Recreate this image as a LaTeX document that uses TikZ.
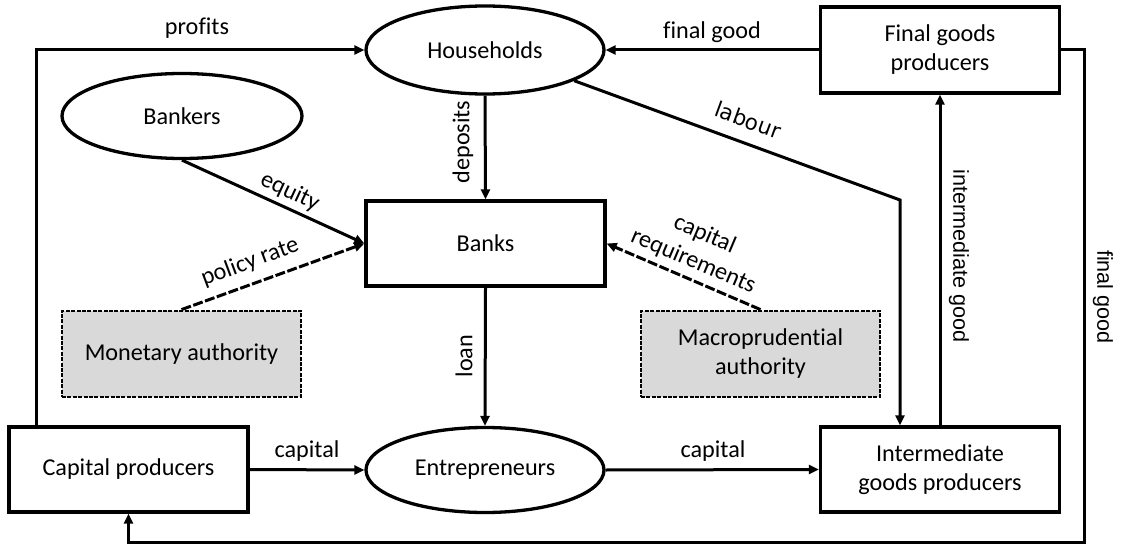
\documentclass[tikz,border=0pt]{standalone}
\usepackage{fontspec}
\setmainfont{Carlito}[Ligatures=NoCommon]
\newfontfamily\vlabfont{Liberation Sans}
\newfontfamily\labfont{DejaVu Sans}
\usetikzlibrary{shapes.geometric,arrows.meta,calc}
\definecolor{authgray}{HTML}{D9D9D9}
\tikzset{
  base/.style={line width=3.3pt, inner sep=0pt, align=center, font=\fontsize{24.2pt}{29pt}\selectfont},
  boxn/.style={base, draw, rectangle, minimum width=239pt, minimum height=85pt},
  elln/.style={base, draw, ellipse, minimum width=238pt, minimum height=88pt},
  authn/.style={base, draw, rectangle, fill=authgray, minimum width=239pt, minimum height=86pt, dash pattern=on 4pt off 1.4pt, line width=2.8pt},
  arr/.style={line width=3pt, -{Triangle[length=10pt,width=9pt]}},
  darr/.style={arr, dash pattern=on 10pt off 2.5pt},
  lab/.style={inner sep=0pt, font=\fontsize{24.2pt}{29pt}\selectfont, align=center},
  vlab/.style={inner sep=0pt, font=\vlabfont\fontsize{21.6pt}{26pt}\selectfont},
}
\begin{document}
\begin{tikzpicture}[x=1pt,y=-1pt]
\useasboundingbox (0,0) rectangle (1121,545);
% nodes
\node[elln] (hh) at (485,50) {Households};
\node[elln, minimum width=240pt, minimum height=85pt] (bn) at (182,116) {Bankers};
\node[boxn] (bk) at (485.5,243.5) {Banks};
\node[boxn, minimum height=86pt] (fg) at (940,50) {Final goods\\producers};
\node[authn] (ma) at (181.5,354) {Monetary authority};
\node[authn] (mp) at (760.5,354) {Macroprudential\\authority};
\node[boxn] (cp) at (128.5,469.5) {Capital producers};
\node[elln, minimum height=85pt] (en) at (485,470) {Entrepreneurs};
\node[boxn] (ig) at (940,469.5) {Intermediate\\goods producers};
% helper coordinates
\coordinate (pf) at (36,50);
\coordinate (lb) at (900,200);
\coordinate (fgc) at (1084,542);
% connectors
\draw[arr] (pf |- cp.north) -- (pf) -- (hh.west);
\draw[arr] (fg.west) -- (hh.east);
\draw[arr] (fg.east) -| (fgc) -| (cp.south);
\draw[arr] (hh.south) -- (bk.north);
\draw[arr] (bk.south) -- (en.north);
\draw[arr] (bn.south) -- (bk.west);
\draw[darr] (ma.north) -- (bk.west);
\draw[darr] (mp.north) -- (bk.east);
\draw[arr] (hh.-19.4) -- (lb) -- (lb |- ig.north);
\draw[arr] (ig.north) -- (fg.south);
\draw[arr] (cp.east) -- (en.west);
\draw[arr] (en.east) -- (ig.west);
% labels
\node[lab] (lprof) at (197,28) {profits};
\node[lab] (lfg) at (712,32) {final good};
\node[lab, rotate=90] (ldep) at (463,142) {deposits};
\node[lab, rotate=90] (lloan) at (464,356) {loan};
\node[lab] (lcap1) at (307,451) {capital};
\node[lab] (lcap2) at (713,451) {capital};
\node[lab, rotate=-25] (leq) at (290,192) {equity};
\node[lab, rotate=20.5] (lpol) at (250,262) {policy rate};
\node[lab, rotate=-23] (lreq) at (699,248) {capital\\requirements};
\node[inner sep=0pt, font=\labfont\fontsize{21.5pt}{26pt}\selectfont, rotate=-20] (llab) at (748,120) {labour};
\node[vlab, rotate=-90] (lig) at (959,256) {intermediate good};
\node[vlab, rotate=-90] (lfg2) at (1103,297) {final good};
\end{tikzpicture}
\end{document}
